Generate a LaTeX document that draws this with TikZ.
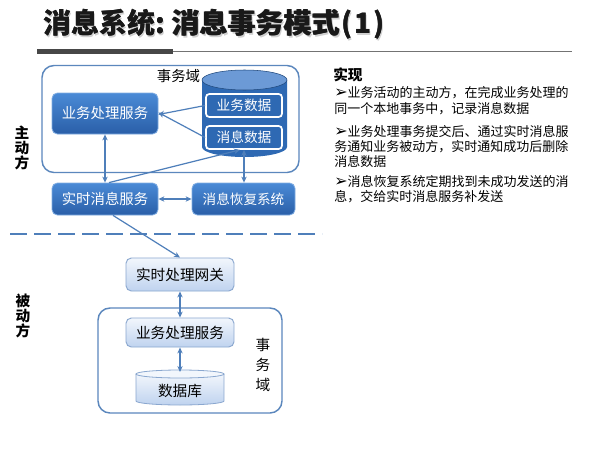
\documentclass[tikz,border=0pt]{standalone}
\usepackage{fontspec}
\setmainfont{Noto Sans CJK SC}
\newfontfamily\dejavu{DejaVu Sans}
\usetikzlibrary{shapes.geometric,arrows.meta}
\definecolor{lineblue}{HTML}{4F7FBA}
\definecolor{frameblue}{HTML}{5B87BD}
\definecolor{darktop}{HTML}{4A8AD6}
\definecolor{darkbot}{HTML}{2A5FA8}
\definecolor{lighttop}{HTML}{F2F6FC}
\definecolor{lightbot}{HTML}{BFD3EF}
\definecolor{lightedge}{HTML}{8AA7CF}
\definecolor{cylbody}{HTML}{2E69B3}
\definecolor{cyltop}{HTML}{6C9AD6}
\newcommand{\titlestr}{消息系统:\hspace{5pt}消息事务模式\kern1pt(\kern1.5pt1\kern1.5pt)}
\newcommand{\bul}{{\dejavu\fontsize{12pt}{10pt}\selectfont ➢}}
\begin{document}
\begin{tikzpicture}[x=0.75pt,y=-0.75pt,
  darkbox/.style={draw=darktop!70!white, line width=0.6pt, rounded corners=4pt,
    top color=darktop, bottom color=darkbot, text=white, font=\fontsize{10.8pt}{12pt}\selectfont, inner sep=0pt},
  databox/.style={draw=white, line width=1.3pt, rounded corners=2.5pt, fill=cylbody,
    text=white, font=\fontsize{10.3pt}{12pt}\selectfont, inner sep=0pt,
    minimum width=57pt, minimum height=17.25pt},
  lightbox/.style={draw=lightedge, line width=0.7pt, rounded corners=4pt,
    top color=lighttop, bottom color=lightbot, text=black, font=\fontsize{11pt}{12pt}\selectfont, inner sep=0pt,
    minimum width=81pt},
  domainbox/.style={draw=frameblue, line width=1.1pt, rounded corners=9pt},
  conn/.style={draw=lineblue, line width=0.9pt},
  arr/.style={conn, -{Stealth[length=4.5pt,width=4pt]}},
  darr/.style={conn, {Stealth[length=4.5pt,width=4pt]}-{Stealth[length=4.5pt,width=4pt]}},
  bodytext/.style={font=\fontsize{9.75pt}{11.6pt}\selectfont, anchor=base west, inner sep=0pt},
  sidelabel/.style={font=\fontsize{11pt}{11.5pt}\selectfont\bfseries, align=center, inner sep=0pt},
  titletext/.style={anchor=west, inner sep=0pt, font=\fontsize{21pt}{24pt}\selectfont\bfseries},
]
\useasboundingbox (0,0) rectangle (600,450);
\fill[white] (0,0) rectangle (600,450);

% title
\node[titletext, text=black!30, opacity=0.6] (titleshadow) at (44.5,26) {\titlestr};
\node[titletext, text=black!90] (titleB) at (43.5,24.3) {\titlestr};
\node[titletext, text=black!90] (title) at (43,24.3) {\titlestr};
\coordinate (ulA) at (37,51.5);
\coordinate (ulB) at (173,51.5);
\coordinate (ulC) at (572,51.5);
\draw[line width=1.2pt, black!55] (ulB) -- (ulC);
\draw[line width=3.6pt, black!72] (ulA) -- (ulB);

% upper domain
\node[domainbox, minimum width=192.75pt, minimum height=80.25pt] (dom1) at (170.5,119) {};
\node[font=\fontsize{10.8pt}{12pt}\selectfont, inner sep=0pt] (dom1label) at (178.5,76.5) {事务域};

% cylinder (upper)
\node[minimum width=63.75pt, minimum height=65.25pt, inner sep=0pt] (db1) at (244.5,113.5) {};
\fill[cylbody] (202,80) -- (202,147) arc[start angle=180, end angle=0, x radius=42.5, y radius=10] -- (287,80) -- cycle;
\fill[cyltop] (244.5,80) ellipse[x radius=42.5, y radius=10];
\draw[cylbody!70!black, line width=0.4pt] (244.5,80) ellipse[x radius=42.5, y radius=10];

\node[databox] (bizdata) at (244,105.5) {业务数据};
\node[databox] (msgdata) at (244,137.5) {消息数据};

\node[darkbox, minimum width=79.5pt, minimum height=30.75pt] (biz1) at (105,113.5) {业务处理服务};
\node[darkbox, minimum width=79.5pt, minimum height=24pt] (rtmsg) at (105,199) {实时消息服务};
\node[darkbox, minimum width=77.25pt, minimum height=24pt, font=\fontsize{10.2pt}{12pt}\selectfont] (recover) at (243.5,199) {消息恢复系统};

% side labels
\node[sidelabel] (active) at (22,148) {主\\动\\方};
\node[sidelabel] (passive) at (23,316) {被\\动\\方};

% dashed separator
\coordinate (dashA) at (10,234);
\coordinate (dashB) at (322,234);
\draw[lineblue, line width=1.4pt, dash pattern=on 12.5pt off 5.5pt] (dashA) -- (dashB);

% lower part
\node[lightbox, minimum height=24.75pt] (gateway) at (180,274.5) {实时处理网关};
\node[domainbox, minimum width=138pt, minimum height=78.75pt] (dom2) at (190,360.5) {};
\node[font=\fontsize{11pt}{15pt}\selectfont, align=center, inner sep=0pt] (dom2label) at (263,365) {事\\务\\域};
\node[lightbox, minimum height=21.75pt] (biz2) at (180,332.5) {业务处理服务};

\node[minimum width=66pt, minimum height=26.25pt, inner sep=0pt] (db2) at (180,388) {};
\shade[top color=lighttop, bottom color=lightbot] (136,374) -- (136,401) arc[start angle=180, end angle=0, x radius=44, y radius=4] -- (224,374) -- cycle;
\draw[lightedge, line width=0.6pt] (136,374) -- (136,401) arc[start angle=180, end angle=0, x radius=44, y radius=4] -- (224,374);
\fill[lighttop] (180,374) ellipse[x radius=44, y radius=4];
\draw[lightedge, line width=0.6pt] (180,374) ellipse[x radius=44, y radius=4];
\node[font=\fontsize{11pt}{12pt}\selectfont, inner sep=0pt] (db2label) at (180,391) {数据库};

% connectors
\draw[arr] (bizdata.west) -- ([yshift=-0.75pt]biz1.east);
\draw[arr] (msgdata.west) -- ([yshift=0.75pt]biz1.east);
\draw[darr] (biz1.south) -- (rtmsg.north);
\draw[arr] ([xshift=3pt]rtmsg.north) -- ([xshift=-3pt]msgdata.south);
\draw[darr] (msgdata.south) -- (msgdata.south |- recover.north);
\draw[darr] (rtmsg.east) -- (recover.west);
\draw[arr] ([xshift=6pt]rtmsg.south) -- (gateway.north);
\draw[darr] (gateway.south) -- (biz2.north);
\draw[darr] (biz2.south) -- (180,372);

% right text
\node[anchor=west, inner sep=0pt, font=\fontsize{11pt}{12pt}\selectfont\bfseries] (impl) at (333,75) {实现};
\node[bodytext] (l1) at (334,97) {\bul 业务活动的主动方，在完成业务处理的};
\node[bodytext] (l2) at (334,113.5) {同一个本地事务中，记录消息数据};
\node[bodytext] (l3) at (334,136.5) {\bul 业务处理事务提交后、通过实时消息服};
\node[bodytext] (l4) at (334,151.5) {务通知业务被动方，实时通知成功后删除};
\node[bodytext] (l5) at (334,166.5) {消息数据};
\node[bodytext] (l6) at (334,186.5) {\bul 消息恢复系统定期找到未成功发送的消};
\node[bodytext] (l7) at (334,201.5) {息，交给实时消息服务补发送};
\end{tikzpicture}
\end{document}
